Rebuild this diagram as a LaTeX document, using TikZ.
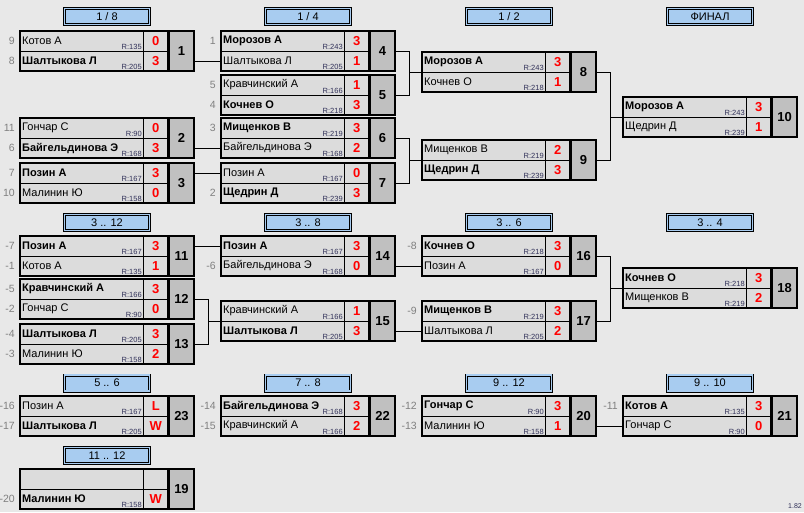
\documentclass[tikz,border=0pt]{standalone}
\usepackage{fontspec}
\setmainfont{Liberation Sans}
\usetikzlibrary{calc}

\definecolor{bgcol}{HTML}{E8E8E8}
\definecolor{cellcol}{HTML}{DCDCDC}
\definecolor{numcol}{HTML}{C0C0C0}
\definecolor{headcol}{HTML}{A8CCF0}
\definecolor{ratecol}{HTML}{303058}
\definecolor{seedcol}{HTML}{808080}

% one match: id, left x, top y, match number
\newcommand{\tmatch}[4]{%
  \node[rowcell] (#1a) at (#2,#3) {};
  \node[rowcell] (#1b) at (#2,#3+20) {};
  \node[scorecell] (#1as) at (#2+123.5,#3) {};
  \node[scorecell] (#1bs) at (#2+123.5,#3+20) {};
  \draw[matchframe] (#2,#3) rectangle (#2+148,#3+40);
  \node[numbox] (#1) at (#2+149,#3) {#4};
}
% one row: row id, font, name, rating, score
\newcommand{\tplayer}[5]{%
  \node[pname] (#1n) at ([xshift=2pt]#1.west) {#2#3};
  \node[prate] (#1r) at ([xshift=-1pt,yshift=1pt]#1.south east) {R:#4};
  \node[pscore] (#1sc) at (#1s) {#5};
}
\newcommand{\tseed}[2]{\node[seed] (#1l) at ([xshift=-5pt]#1.west) {#2};}
\newcommand{\thead}[4]{\node[headbox] (#1) at (#2+87,#3) {#4};}

\begin{document}
\begin{tikzpicture}
  [x=1pt,y=-1pt,
   link/.style={line width=1pt},
   rowcell/.style={rectangle,draw,line width=0.8pt,fill=cellcol,anchor=north west,
     minimum width=123.5pt,minimum height=20pt,inner sep=0pt,outer sep=0pt},
   scorecell/.style={rowcell,minimum width=24.5pt},
   matchframe/.style={line width=2pt},
   numbox/.style={rectangle,draw,line width=2pt,fill=numcol,anchor=north west,
     minimum width=25pt,minimum height=40pt,inner sep=0pt,outer sep=0pt,
     font=\fontsize{13}{14}\selectfont\bfseries},
   pname/.style={anchor=west,inner sep=0pt,font=\fontsize{11}{13}\selectfont},
   prate/.style={anchor=south east,inner sep=0.6pt,fill=cellcol,text=ratecol,
     font=\fontsize{7.5}{8}\selectfont},
   pscore/.style={inner sep=0pt,text=red,font=\fontsize{13}{14}\selectfont\bfseries},
   seed/.style={anchor=east,inner sep=0pt,text=seedcol,font=\fontsize{10.5}{12}\selectfont},
   headbox/.style={rectangle,draw,line width=0.7pt,double=headcol,double distance=1.6pt,
     fill=headcol,minimum width=85pt,minimum height=16pt,inner sep=0pt,
     font=\fontsize{11}{13}\selectfont},
  ]
  \fill[bgcol] (0,0) rectangle (804,512);
  \useasboundingbox (0,0) rectangle (804,512);

  % headers
  \thead{h1}{20}{16.5}{1 / 8}
  \thead{h2}{221}{16.5}{1 / 4}
  \thead{h3}{422}{16.5}{1 / 2}
  \thead{h4}{623}{16.5}{ФИНАЛ}
  \thead{h5}{20}{222.5}{3 .. 12}
  \thead{h6}{221}{222.5}{3 .. 8}
  \thead{h7}{422}{222.5}{3 .. 6}
  \thead{h8}{623}{222.5}{3 .. 4}
  \thead{h9}{20}{383}{5 .. 6}
  \thead{h10}{221}{383}{7 .. 8}
  \thead{h11}{422}{383}{9 .. 12}
  \thead{h12}{623}{383}{9 .. 10}
  \thead{h13}{20}{455.5}{11 .. 12}

  % main draw
  \tmatch{m1}{20}{31}{1}
  \tplayer{m1a}{}{Котов А}{135}{0}
  \tplayer{m1b}{\bfseries}{Шалтыкова Л}{205}{3}
  \tseed{m1a}{9} \tseed{m1b}{8}

  \tmatch{m2}{20}{118}{2}
  \tplayer{m2a}{}{Гончар С}{90}{0}
  \tplayer{m2b}{\bfseries}{Байгельдинова Э}{168}{3}
  \tseed{m2a}{11} \tseed{m2b}{6}

  \tmatch{m3}{20}{163}{3}
  \tplayer{m3a}{\bfseries}{Позин А}{167}{3}
  \tplayer{m3b}{}{Малинин Ю}{158}{0}
  \tseed{m3a}{7} \tseed{m3b}{10}

  \tmatch{m4}{221}{31}{4}
  \tplayer{m4a}{\bfseries}{Морозов А}{243}{3}
  \tplayer{m4b}{}{Шалтыкова Л}{205}{1}
  \tseed{m4a}{1}

  \tmatch{m5}{221}{75}{5}
  \tplayer{m5a}{}{Кравчинский А}{166}{1}
  \tplayer{m5b}{\bfseries}{Кочнев О}{218}{3}
  \tseed{m5a}{5} \tseed{m5b}{4}

  \tmatch{m6}{221}{118}{6}
  \tplayer{m6a}{\bfseries}{Мищенков В}{219}{3}
  \tplayer{m6b}{}{Байгельдинова Э}{168}{2}
  \tseed{m6a}{3}

  \tmatch{m7}{221}{163}{7}
  \tplayer{m7a}{}{Позин А}{167}{0}
  \tplayer{m7b}{\bfseries}{Щедрин Д}{239}{3}
  \tseed{m7b}{2}

  \tmatch{m8}{422}{52}{8}
  \tplayer{m8a}{\bfseries}{Морозов А}{243}{3}
  \tplayer{m8b}{}{Кочнев О}{218}{1}

  \tmatch{m9}{422}{140}{9}
  \tplayer{m9a}{}{Мищенков В}{219}{2}
  \tplayer{m9b}{\bfseries}{Щедрин Д}{239}{3}

  \tmatch{m10}{623}{97}{10}
  \tplayer{m10a}{\bfseries}{Морозов А}{243}{3}
  \tplayer{m10b}{}{Щедрин Д}{239}{1}

  % places 3-12
  \tmatch{m11}{20}{236}{11}
  \tplayer{m11a}{\bfseries}{Позин А}{167}{3}
  \tplayer{m11b}{}{Котов А}{135}{1}
  \tseed{m11a}{-7} \tseed{m11b}{-1}

  \tmatch{m12}{20}{279}{12}
  \tplayer{m12a}{\bfseries}{Кравчинский А}{166}{3}
  \tplayer{m12b}{}{Гончар С}{90}{0}
  \tseed{m12a}{-5} \tseed{m12b}{-2}

  \tmatch{m13}{20}{324}{13}
  \tplayer{m13a}{\bfseries}{Шалтыкова Л}{205}{3}
  \tplayer{m13b}{}{Малинин Ю}{158}{2}
  \tseed{m13a}{-4} \tseed{m13b}{-3}

  \tmatch{m14}{221}{236}{14}
  \tplayer{m14a}{\bfseries}{Позин А}{167}{3}
  \tplayer{m14b}{}{Байгельдинова Э}{168}{0}
  \tseed{m14b}{-6}

  \tmatch{m15}{221}{301}{15}
  \tplayer{m15a}{}{Кравчинский А}{166}{1}
  \tplayer{m15b}{\bfseries}{Шалтыкова Л}{205}{3}

  \tmatch{m16}{422}{236}{16}
  \tplayer{m16a}{\bfseries}{Кочнев О}{218}{3}
  \tplayer{m16b}{}{Позин А}{167}{0}
  \tseed{m16a}{-8}

  \tmatch{m17}{422}{301}{17}
  \tplayer{m17a}{\bfseries}{Мищенков В}{219}{3}
  \tplayer{m17b}{}{Шалтыкова Л}{205}{2}
  \tseed{m17a}{-9}

  \tmatch{m18}{623}{268}{18}
  \tplayer{m18a}{\bfseries}{Кочнев О}{218}{3}
  \tplayer{m18b}{}{Мищенков В}{219}{2}

  % lower places
  \tmatch{m23}{20}{396}{23}
  \tplayer{m23a}{}{Позин А}{167}{L}
  \tplayer{m23b}{\bfseries}{Шалтыкова Л}{205}{W}
  \tseed{m23a}{-16} \tseed{m23b}{-17}

  \tmatch{m22}{221}{396}{22}
  \tplayer{m22a}{\bfseries}{Байгельдинова Э}{168}{3}
  \tplayer{m22b}{}{Кравчинский А}{166}{2}
  \tseed{m22a}{-14} \tseed{m22b}{-15}

  \tmatch{m20}{422}{396}{20}
  \tplayer{m20a}{\bfseries}{Гончар С}{90}{3}
  \tplayer{m20b}{}{Малинин Ю}{158}{1}
  \tseed{m20a}{-12} \tseed{m20b}{-13}

  \tmatch{m21}{623}{396}{21}
  \tplayer{m21a}{\bfseries}{Котов А}{135}{3}
  \tplayer{m21b}{}{Гончар С}{90}{0}
  \tseed{m21a}{-11}

  \tmatch{m19}{20}{469}{19}
  \tplayer{m19b}{\bfseries}{Малинин Ю}{158}{W}
  \tseed{m19b}{-20}

  % links
  \draw[link] (m1.east |- m4b) -- (m4b.west);
  \draw[link] (m2.east |- m6b) -- (m6b.west);
  \draw[link] (m3.east |- m7a) -- (m7a.west);
  \draw[link] (m4.east) -- ++(14,0) |- (m5.east);
  \draw[link] (m8a.south west) -- ++(-13,0);
  \draw[link] (m6.east) -- ++(14,0) |- (m7.east);
  \draw[link] (m9a.south west) -- ++(-13,0);
  \draw[link] (m8.east) -- ++(14,0) |- (m9.east);
  \draw[link] (m10a.south west) -- ++(-13,0);

  \draw[link] (m11.east |- m14a) -- (m14a.west);
  \draw[link] (m12.east) -- ++(14,0) |- (m13.east);
  \draw[link] (m15a.south west) -- ++(-12,0);
  \draw[link] (m14.east |- m16b) -- (m16b.west);
  \draw[link] (m15.east |- m17b) -- (m17b.west);
  \draw[link] (m16.east) -- ++(14,0) |- (m17.east);
  \draw[link] (m18a.south west) -- ++(-13,0);

  \draw[link] (m20.east |- m21b) -- (m21b.west);

  \node[anchor=east,inner sep=0pt,text=ratecol,font=\fontsize{7}{8}\selectfont] (ver) at (802,506) {1.82};
\end{tikzpicture}
\end{document}
